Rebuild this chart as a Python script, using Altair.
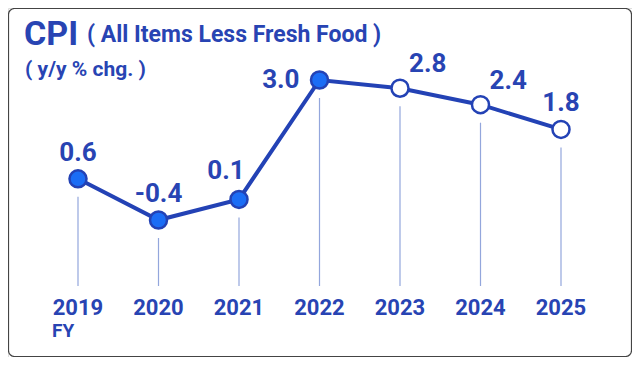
import altair as alt
import pandas as pd

years = [2019, 2020, 2021, 2022, 2023, 2024, 2025]
values = [0.6, -0.4, 0.1, 3.0, 2.8, 2.4, 1.8]
labels = ["0.6", "-0.4", "0.1", "3.0", "2.8", "2.4", "1.8"]
kinds = ["actual", "actual", "actual", "actual", "forecast", "forecast", "forecast"]
year_labels = ["2019", "2020", "2021", "2022", "2023", "2024", "2025"]

title_main = "CPI"
title_sub = "( All Items Less Fresh Food )"
unit_text = "( y/y % chg. )"
fy_text = "FY"

df = pd.DataFrame({"year": years, "value": values, "label": labels,
                   "kind": kinds, "ylabel": year_labels})

DARK = "#2342b5"
TEXT = "#2844b3"
BRIGHT = "#1b6df5"
RULE = "#93a6dc"
FONT = "Roboto"

x = alt.X("year:Q", scale=alt.Scale(domain=[2019, 2025], range=[70, 553]), axis=None)
y = alt.Y("value:Q", scale=alt.Scale(domain=[-0.4, 3.0], range=[212, 72]), axis=None)

base = alt.Chart(df)

border = base.mark_rect(fill="white", stroke="#444444", strokeWidth=1.2, cornerRadius=6).encode(
    x=alt.value(0.5), x2=alt.value(623.5), y=alt.value(0.5), y2=alt.value(348.5)
).transform_filter(alt.datum.year == 2019)

rules = base.mark_rule(color=RULE, strokeWidth=1.2, yOffset=18).encode(
    x=x, y=y, y2=alt.value(278)
)

line = base.mark_line(color=DARK, strokeWidth=4).encode(x=x, y=y)

points = base.mark_point(filled=True, shape="circle", size=290, stroke=DARK,
                         strokeWidth=2.5, opacity=1).encode(
    x=x, y=y,
    fill=alt.Fill("kind:N", scale=alt.Scale(domain=["actual", "forecast"],
                                            range=[BRIGHT, "#ffffff"]), legend=None)
)

def lab(sel, **kw):
    return base.mark_text(font=FONT, fontWeight="bold", fontSize=26, color=TEXT, **kw).encode(
        x=x, y=y, text="label:N"
    ).transform_filter(alt.FieldOneOfPredicate(field="year", oneOf=sel))

lab_above = lab([2019, 2020, 2025], align="center", baseline="alphabetic", dy=-18)
lab_aleft = lab([2021], align="center", baseline="alphabetic", dx=-13, dy=-20)
lab_left = lab([2022], align="right", baseline="middle", dx=-20)
lab_aright = lab([2023, 2024], align="left", baseline="alphabetic", dx=9, dy=-16)

xlabels = base.mark_text(font=FONT, fontWeight="bold", fontSize=22, color=TEXT,
                         align="center", baseline="alphabetic").encode(
    x=x, y=alt.value(307), text="ylabel:N"
)

fy = base.mark_text(font=FONT, fontWeight="bold", fontSize=19, color=TEXT,
                    align="left", baseline="alphabetic", text=fy_text).encode(
    x=alt.value(44), y=alt.value(329)
).transform_filter(alt.datum.year == 2019)

t1 = base.mark_text(font=FONT, fontWeight="bold", fontSize=34, color=TEXT,
                    align="left", baseline="alphabetic", text=title_main).encode(
    x=alt.value(16), y=alt.value(37)
).transform_filter(alt.datum.year == 2019)

t2 = base.mark_text(font=FONT, fontWeight="bold", fontSize=23, color=TEXT,
                    align="left", baseline="alphabetic", text=title_sub).encode(
    x=alt.value(79), y=alt.value(34)
).transform_filter(alt.datum.year == 2019)

t3 = base.mark_text(font=FONT, fontWeight="bold", fontSize=21, color=TEXT,
                    align="left", baseline="alphabetic", text=unit_text).encode(
    x=alt.value(17), y=alt.value(68)
).transform_filter(alt.datum.year == 2019)

chart = alt.layer(border, rules, line, points, lab_above, lab_aleft, lab_left, lab_aright,
                  xlabels, fy, t1, t2, t3).properties(
    width=624, height=349, autosize=alt.AutoSizeParams(type="none"), padding=0
).configure_view(stroke=None).configure(background="white")

chart.save("out.html", embed_options={"renderer": "svg", "actions": False})
